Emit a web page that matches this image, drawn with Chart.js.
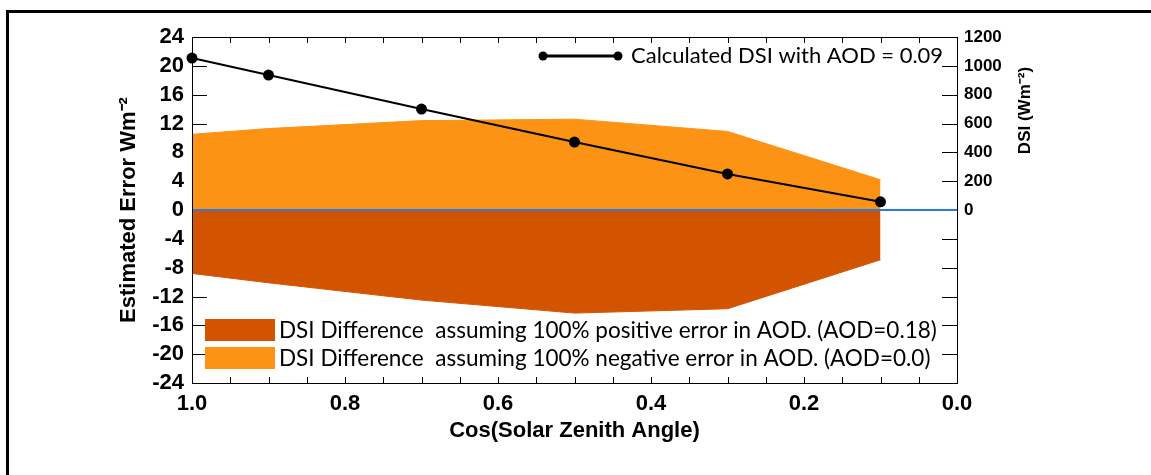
<!DOCTYPE html>
<html>
<head>
<meta charset="utf-8">
<script src="https://cdn.jsdelivr.net/npm/chart.js@4.4.1/dist/chart.umd.min.js"></script>
<style>
html, body { margin: 0; padding: 0; background: #fff; overflow: hidden; }
#frame { position: absolute; left: 6px; top: 10px; width: 1400px; height: 700px; border: 3px solid #000; box-sizing: border-box; }
#wrap { position: absolute; left: 0; top: 0; width: 1151px; height: 475px; }
</style>
</head>
<body>
<div id="frame"></div>
<div id="wrap"><canvas id="chart"></canvas></div>
<script>
// cos(SZA) sample points and values
const cosSza = [1.0, 0.9, 0.7, 0.5, 0.3, 0.1];
const dsiCalc = [1054, 936, 700, 471, 250, 57];          // W m-2, right axis
const diffNegErr = [10.5, 11.3, 12.4, 12.6, 10.9, 4.2];  // AOD = 0.0
const diffPosErr = [-8.8, -10.1, -12.5, -14.3, -13.7, -6.9]; // AOD = 0.18
const zeroX = [1.0, 0.0];
const zeroY = [0, 0];

const colors = {
    light: '#FC9314',
    dark: '#D35400',
    zero: '#2A7BE0',
    line: '#000000'
};

const pts = (xs, ys) => xs.map((v, i) => ({ x: v, y: ys[i] }));
const tickFont = { family: 'Liberation Sans', weight: 'bold', size: 22 };

const boxTicks = {
    id: 'boxTicks',
    beforeDatasetsDraw(chart) {
        const { ctx, chartArea: a, scales: { x, y, y1 } } = chart;
        ctx.save();
        ctx.strokeStyle = '#000';
        ctx.lineWidth = 1;
        ctx.beginPath();
        x.ticks.forEach(t => {
            const px = Math.round(x.getPixelForValue(t.value)) + 0.5;
            ctx.moveTo(px, a.bottom); ctx.lineTo(px, a.bottom - 6);
            ctx.moveTo(px, a.top); ctx.lineTo(px, a.top + 6);
        });
        y.ticks.forEach(t => {
            const py = Math.round(y.getPixelForValue(t.value)) + 0.5;
            ctx.moveTo(a.left, py); ctx.lineTo(a.left + 15, py);
        });
        y1.ticks.forEach(t => {
            const py = Math.round(y1.getPixelForValue(t.value)) + 0.5;
            ctx.moveTo(a.right, py); ctx.lineTo(a.right - 15, py);
        });
        ctx.stroke();
        ctx.restore();
    },
    afterDatasetsDraw(chart) {
        const { ctx, chartArea: a } = chart;
        ctx.save();
        ctx.strokeStyle = '#000';
        ctx.lineWidth = 1;
        ctx.strokeRect(Math.round(a.left) + 0.5, Math.round(a.top) + 0.5, Math.round(a.right - a.left), Math.round(a.bottom - a.top));
        ctx.restore();
    },
    afterDraw(chart) {
        const { ctx, chartArea: a, scales: { y1 } } = chart;
        const ds = chart.data.datasets;
        ctx.save();
        // bottom-left legend (fills)
        ctx.font = '22.5px Lato';
        ctx.textBaseline = 'middle';
        ctx.textAlign = 'left';
        [[2, 330], [3, 358]].forEach(([i, cy]) => {
            ctx.fillStyle = ds[i].backgroundColor;
            ctx.fillRect(a.left + 13, cy - 11, 70, 22);
            ctx.fillStyle = '#000';
            ctx.fillText(ds[i].label, a.left + 87, cy + 1);
        });
        // top-right legend (line)
        const ly = 56;
        ctx.font = '22px Lato';
        ctx.strokeStyle = ds[0].borderColor;
        ctx.lineWidth = 3;
        ctx.beginPath();
        ctx.moveTo(543, ly); ctx.lineTo(618, ly);
        ctx.stroke();
        ctx.fillStyle = '#000';
        [543, 618].forEach(px => { ctx.beginPath(); ctx.arc(px, ly, 4.5, 0, Math.PI * 2); ctx.fill(); });
        ctx.fillText(ds[0].label, 631, ly);
        // right axis title, centred on the 0-1200 span
        ctx.translate(1025, y1.getPixelForValue(690));
        ctx.rotate(-Math.PI / 2);
        ctx.font = 'bold 17px "Liberation Sans"';
        ctx.textAlign = 'center';
        ctx.fillText('DSI (Wm⁻²)', 0, 0);
        ctx.restore();
    }
};

new Chart(document.getElementById('chart'), {
    type: 'line',
    data: {
        datasets: [
            { label: 'Calculated DSI with AOD = 0.09', data: pts(cosSza, dsiCalc), yAxisID: 'y1', borderColor: colors.line, backgroundColor: colors.line, borderWidth: 2, pointRadius: 5.5, pointBorderWidth: 0, pointBackgroundColor: colors.line, fill: false, clip: false },
            { label: '', data: pts(zeroX, zeroY), yAxisID: 'y', borderColor: colors.zero, borderWidth: 2, pointRadius: 0, fill: false },
            { label: 'DSI Difference  assuming 100% positive error in AOD. (AOD=0.18)', data: pts(cosSza, diffPosErr), yAxisID: 'y', borderColor: colors.dark, backgroundColor: colors.dark, borderWidth: 1, pointRadius: 0, fill: 'origin' },
            { label: 'DSI Difference  assuming 100% negative error in AOD. (AOD=0.0)', data: pts(cosSza, diffNegErr), yAxisID: 'y', borderColor: colors.light, backgroundColor: colors.light, borderWidth: 1, pointRadius: 0, fill: 'origin' }
        ]
    },
    options: {
        responsive: true, maintainAspectRatio: false, animation: false,
        layout: { padding: { top: 37, left: 0, right: 0, bottom: 0 } },
        plugins: { legend: { display: false }, tooltip: { enabled: false } },
        scales: {
            x: {
                type: 'linear', reverse: true, min: 0, max: 1,
                afterFit: s => { s.height = 92; },
                grid: { display: false, drawTicks: false }, border: { display: false },
                ticks: { stepSize: 0.05, autoSkip: false, maxRotation: 0, padding: 8, color: '#000', font: tickFont,
                    callback: v => Math.round(v * 20) % 4 === 0 ? v.toFixed(1) : '' },
                title: { display: true, text: 'Cos(Solar Zenith Angle)', color: '#000', font: tickFont, padding: { top: 0, bottom: 31 } }
            },
            y: {
                position: 'left', min: -24, max: 24,
                afterFit: s => { s.width = 192; },
                grid: { display: false, drawTicks: false }, border: { display: false },
                ticks: { stepSize: 4, autoSkip: false, padding: 8, color: '#000', font: tickFont },
                title: { display: true, text: 'Estimated Error Wm⁻²', color: '#000', font: tickFont, padding: { top: 116, bottom: 0 } }
            },
            y1: {
                position: 'right', min: -1200, max: 1200,
                afterFit: s => { s.width = 194; },
                grid: { display: false, drawTicks: false }, border: { display: false },
                ticks: { stepSize: 200, autoSkip: false, padding: 7, color: '#000', font: { family: 'Liberation Sans', weight: 'bold', size: 17 },
                    callback: v => v >= 0 ? v : '' }
            }
        }
    },
    plugins: [boxTicks]
});
</script>
</body>
</html>
